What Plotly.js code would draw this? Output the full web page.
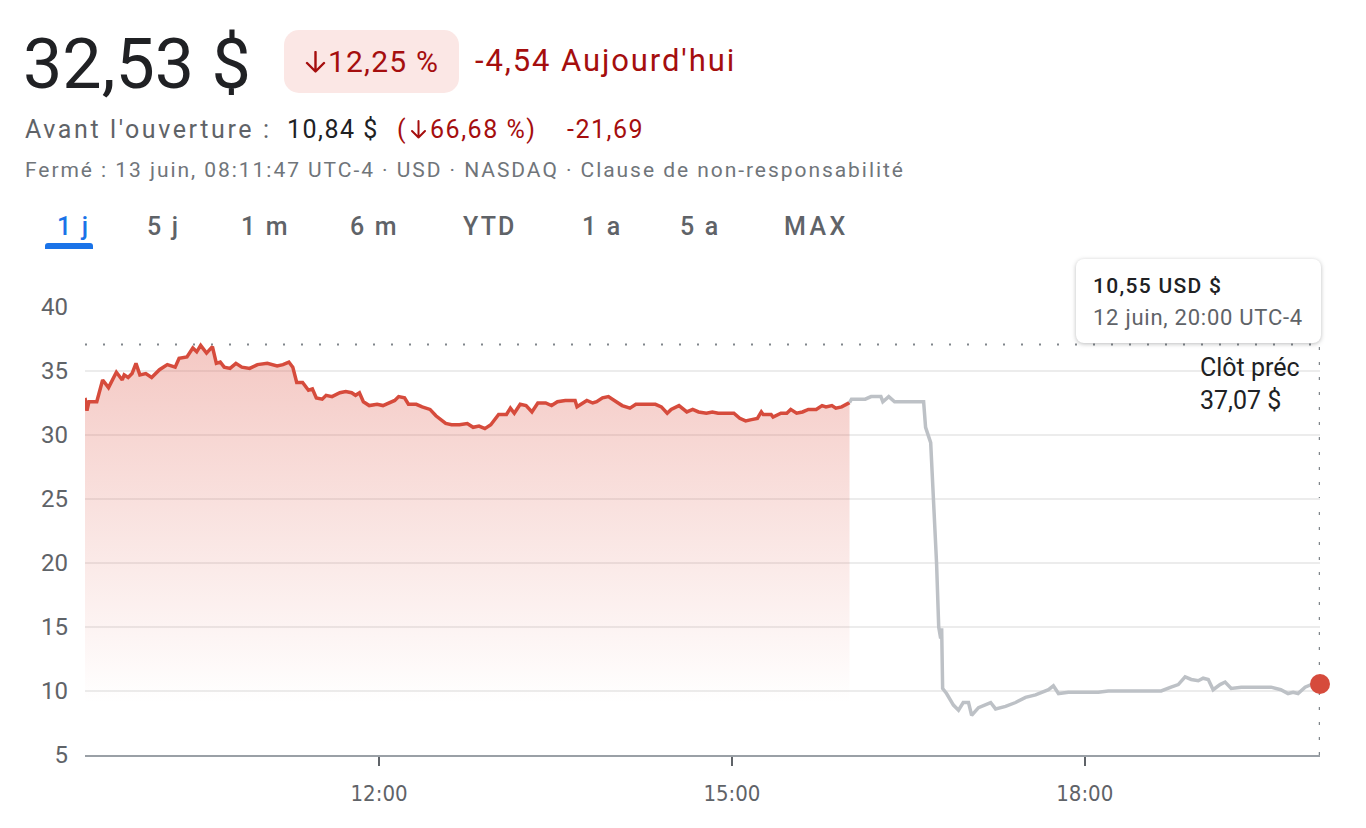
<!DOCTYPE html>
<html>
<head>
<meta charset="utf-8">
<script src="https://cdn.plot.ly/plotly-3.0.1.min.js"></script>
<style>
  html, body { margin:0; padding:0; background:#fff; width:1366px; height:828px; overflow:hidden; font-family: Roboto, "Noto Sans", sans-serif; }
  #chart { position:absolute; left:0; top:0; width:1366px; height:828px; }
  .abs { position:absolute; white-space:nowrap; }
  #price { left:23px; top:22px; font-size:70px; color:#202124; line-height:84px; }
  #badge { left:284px; top:30px; width:175px; height:63px; background:#fbe7e5; border-radius:15px; }
  #badgetxt { left:305px; top:40px; font-size:30px; color:#a50e0e; line-height:44px; letter-spacing:1.2px; }
  #badgetxt svg { vertical-align:-1px; margin-right:2px; }
  #chg { left:475px; top:39px; font-size:31px; color:#a50e0e; line-height:44px; letter-spacing:1.9px; }
  .l2 { top:113px; font-size:25px; line-height:34px; letter-spacing:1.5px; }
  .grey { color:#5f6368; }
  .dark { color:#202124; }
  .red { color:#a50e0e; }
  #meta { left:25px; top:155px; font-size:21px; line-height:30px; color:#70757a; letter-spacing:1.95px; }
  .tab { top:209px; font-size:25px; line-height:36px; color:#5f6368; font-weight:500; letter-spacing:2.2px; }
  #tab1 { color:#1a73e8; }
  #tabbar { left:45px; top:243px; width:48px; height:6px; background:#1a73e8; border-radius:3px 3px 0 0; }
  #tip { left:1076px; top:259px; width:245px; height:84px; background:#fff; border-radius:8px; box-shadow:0 1px 4px rgba(60,64,67,0.35); }
  #tip1 { left:17px; top:12px; font-size:21px; font-weight:500; color:#202124; line-height:30px; letter-spacing:1.3px; }
  #tip2 { left:17px; top:44px; font-size:22px; color:#5f6368; line-height:30px; letter-spacing:0.75px; }
</style>
</head>
<body>
<div id="chart"></div>
<div class="abs" id="price">32,53 $</div>
<div class="abs" id="badge"></div>
<div class="abs" id="badgetxt"><svg width="21" height="22" viewBox="0 0 21 22"><path d="M10.5 1 V20 M2 12 L10.5 20.5 L19 12" stroke="#a50e0e" stroke-width="2.4" fill="none" stroke-linecap="round" stroke-linejoin="round"/></svg>12,25 %</div>
<div class="abs" id="chg">-4,54 Aujourd'hui</div>
<div class="abs l2 grey" style="left:25px;letter-spacing:2.6px">Avant l'ouverture :</div>
<div class="abs l2 dark" style="left:287px">10,84 $</div>
<div class="abs l2 red" style="left:397px">(<svg width="17" height="19" viewBox="0 0 17 19" style="vertical-align:-1px;margin:0 3px"><path d="M8.5 1 V17.5 M2 11 L8.5 17.5 L15 11" stroke="#a50e0e" stroke-width="2" fill="none" stroke-linecap="round" stroke-linejoin="round"/></svg>66,68 %)</div>
<div class="abs l2 red" style="left:567px">-21,69</div>
<div class="abs" id="meta">Fermé : 13 juin, 08:11:47 UTC-4 · USD · NASDAQ · Clause de non-responsabilité</div>
<div class="abs tab" id="tab1" style="left:57px">1 j</div>
<div class="abs tab" style="left:147px">5 j</div>
<div class="abs tab" style="left:241px">1 m</div>
<div class="abs tab" style="left:350px">6 m</div>
<div class="abs tab" style="left:463px">YTD</div>
<div class="abs tab" style="left:582px">1 a</div>
<div class="abs tab" style="left:680px">5 a</div>
<div class="abs tab" style="left:784px;letter-spacing:3.4px">MAX</div>
<div class="abs" id="tabbar"></div>
<div class="abs" id="tip"><div class="abs" id="tip1"></div><div class="abs" id="tip2"></div></div>
<script>
const day = "2025-06-12";
const regTimes = ["09:30","09:31","09:32","09:36","09:39","09:42","09:46","09:49","09:50","09:52","09:54","09:56","09:58","10:01","10:04","10:08","10:12","10:16","10:18","10:22","10:25","10:27","10:29","10:32","10:35","10:37","10:39","10:41","10:44","10:47","10:50","10:54","10:58","11:03","11:08","11:11","11:14","11:16","11:18","11:21","11:24","11:26","11:28","11:31","11:33","11:36","11:40","11:43","11:46","11:48","11:50","11:52","11:55","11:59","12:02","12:05","12:08","12:10","12:13","12:15","12:19","12:22","12:26","12:29","12:34","12:37","12:41","12:45","12:48","12:51","12:54","12:57","13:01","13:05","13:07","13:09","13:12","13:15","13:18","13:21","13:25","13:28","13:31","13:35","13:40","13:41","13:43","13:46","13:49","13:51","13:54","13:57","14:01","14:04","14:08","14:11","14:14","14:18","14:21","14:24","14:27","14:29","14:33","14:37","14:40","14:43","14:47","14:50","14:53","14:57","15:01","15:04","15:07","15:10","15:13","15:15","15:16","15:20","15:21","15:25","15:28","15:30","15:33","15:36","15:39","15:43","15:46","15:48","15:51","15:53","15:56","16:00"];
const regPrices = [32.9,31.9,32.6,32.6,34.3,33.7,34.9,34.3,34.7,34.5,34.8,35.6,34.7,34.8,34.5,35.1,35.5,35.3,36.0,36.1,36.8,36.5,37.0,36.4,36.9,35.6,35.7,35.3,35.2,35.6,35.3,35.2,35.5,35.6,35.4,35.5,35.7,35.3,34.1,34.1,33.5,33.6,32.9,32.8,33.1,33.0,33.3,33.4,33.3,33.1,33.3,32.6,32.3,32.4,32.3,32.5,32.7,33.0,32.9,32.4,32.4,32.2,32.0,31.5,30.9,30.8,30.8,30.9,30.6,30.7,30.5,30.8,31.6,31.6,32.1,31.7,32.4,32.3,31.8,32.5,32.5,32.3,32.6,32.7,32.7,32.2,32.4,32.7,32.5,32.6,32.9,33.0,32.6,32.3,32.1,32.4,32.4,32.4,32.4,32.2,31.7,32.0,32.3,31.8,32.0,31.8,31.7,31.8,31.7,31.7,31.7,31.3,31.1,31.2,31.3,31.8,31.6,31.6,31.4,31.7,31.7,32.0,31.7,31.8,32.0,32.0,32.3,32.2,32.3,32.1,32.2,32.53];
const extTimes = ["16:00","16:01","16:08","16:11","16:16","16:17","16:20","16:23","16:37:48","16:38:48","16:41:24","16:42:54","16:44:24","16:45:30","16:46:30","16:47:00","16:47:30","16:49:30","16:50:36","16:52","16:53","16:55:36","16:58","17:00:42","17:02:18","17:05:48","17:09:24","17:12","17:14:30","17:19:36","17:24:42","17:29:48","17:34:54","17:38","17:41:30","17:44","17:46:36","17:51:42","17:56:48","18:01:48","18:06:54","18:12","18:18:36","18:25:48","18:32:24","18:39","18:44","18:47:42","18:51:12","18:54:18","18:57:54","19:00:24","19:03","19:05:30","19:09","19:11:36","19:14:42","19:19:48","19:24:54","19:30","19:35","19:40","19:43:42","19:46:18","19:48:48","19:52:24","19:55:24","20:00"];
const extPrices = [32.53,32.8,32.8,33.0,33.0,32.6,33.0,32.6,32.6,30.6,29.4,25.2,20.0,15.0,14.1,14.9,10.2,9.8,9.5,9.1,8.9,8.5,9.1,9.1,8.1,8.7,8.9,9.1,8.6,8.8,9.1,9.5,9.7,9.9,10.1,10.4,9.8,9.9,9.9,9.9,9.9,10.0,10.0,10.0,10.0,10.0,10.3,10.5,11.1,10.9,10.8,11.0,10.9,10.1,10.5,10.7,10.2,10.3,10.3,10.3,10.3,10.1,9.8,9.9,9.8,10.3,10.5,10.55];
const prevClose = 37.07;
const yTicks = [5,10,15,20,25,30,35,40];
const xTickTimes = ["12:00","15:00","18:00"];
const xRange = ["09:30","20:00"];

const d = t => day + " " + t;
const fr = v => v.toFixed(2).replace(".", ",");
const lastT = extTimes[extTimes.length-1], lastP = extPrices[extPrices.length-1];
document.getElementById("tip1").textContent = fr(lastP) + " USD $";
document.getElementById("tip2").textContent = "12 juin, " + lastT + " UTC-4";

const red = "#d64b3c";
const traces = [
  { x: regTimes.map(d), y: regPrices, type:"scatter", mode:"lines",
    line:{color:red, width:3.5}, fill:"tozeroy",
    fillgradient:{type:"vertical", start:9, stop:37,
      colorscale:[[0,"rgba(222,90,75,0)"],[1,"rgba(222,90,75,0.33)"]]},
    hoverinfo:"skip" },
  { x: extTimes.map(d), y: extPrices, type:"scatter", mode:"lines",
    line:{color:"#bdc1c6", width:3.5}, hoverinfo:"skip" },
  { x: [d(lastT)], y: [lastP], type:"scatter", mode:"markers",
    marker:{color:red, size:20}, cliponaxis:false, hoverinfo:"skip" }
];
const layout = {
  width:1366, height:828,
  margin:{l:85, r:46, t:307, b:73},
  paper_bgcolor:"rgba(0,0,0,0)", plot_bgcolor:"rgba(0,0,0,0)",
  showlegend:false,
  font:{family:"Roboto, sans-serif", color:"#5f6368"},
  xaxis:{type:"date", range:xRange.map(d), tickvals:xTickTimes.map(d), ticktext:xTickTimes,
    showgrid:false, zeroline:false, showline:true, linecolor:"#9aa0a6", linewidth:2,
    ticks:"outside", ticklen:9, tickwidth:2, tickcolor:"#5f6368",
    tickfont:{family:"'Liberation Sans Narrow', 'DejaVu Sans Condensed', Roboto", size:22, color:"#5f6368"},
    ticklabelstandoff:9, fixedrange:true},
  yaxis:{range:[5,40], tickvals:yTicks, ticktext:yTicks.map(String),
    showgrid:true, gridcolor:"#ececec", gridwidth:1.5, zeroline:false, showline:false, ticks:"",
    tickfont:{family:"Roboto", size:24, color:"#5f6368"}, ticklabelstandoff:16, fixedrange:true},
  shapes:[
    {type:"line", xref:"paper", x0:0, x1:1, yref:"y", y0:prevClose, y1:prevClose,
     line:{color:"#80868b", width:2, dash:"2px,16px"}, layer:"below"},
    {type:"line", xref:"x", x0:d(lastT), x1:d(lastT), yref:"y", y0:5, y1:prevClose,
     line:{color:"#80868b", width:2.5, dash:"3px,12px"}, layer:"below"}
  ],
  annotations:[
    {xref:"x", yref:"y", x:d("19:00"), y:prevClose-0.5, xanchor:"left", yanchor:"top",
     text:"Clôt préc<br>" + fr(prevClose) + " $", align:"left", showarrow:false,
     font:{family:"Roboto", size:25, color:"#202124"}, xshift:-4}
  ]
};
Plotly.newPlot("chart", traces, layout, {staticPlot:true, displayModeBar:false});
</script>
</body>
</html>
